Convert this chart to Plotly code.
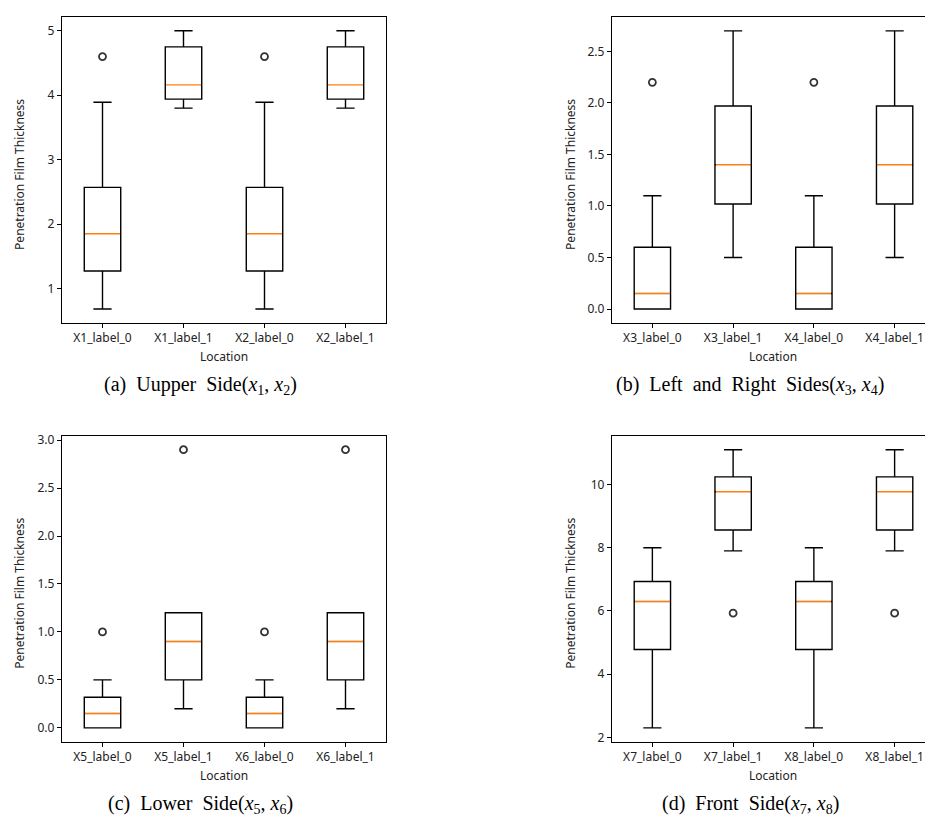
import plotly.graph_objects as go

W, H = 933, 817

# ---------------- data ----------------
labels_a = ["X1_label_0", "X1_label_1", "X2_label_0", "X2_label_1"]
low_a = [0.68, 3.80, 0.68, 3.80]
q1_a = [1.27, 3.94, 1.27, 3.94]
med_a = [1.85, 4.16, 1.85, 4.16]
q3_a = [2.57, 4.75, 2.57, 4.75]
high_a = [3.89, 5.00, 3.89, 5.00]
out_a = [[4.6], [], [4.6], []]

labels_b = ["X3_label_0", "X3_label_1", "X4_label_0", "X4_label_1"]
low_b = [0.0, 0.50, 0.0, 0.50]
q1_b = [0.0, 1.02, 0.0, 1.02]
med_b = [0.15, 1.40, 0.15, 1.40]
q3_b = [0.60, 1.97, 0.60, 1.97]
high_b = [1.10, 2.70, 1.10, 2.70]
out_b = [[2.2], [], [2.2], []]

labels_c = ["X5_label_0", "X5_label_1", "X6_label_0", "X6_label_1"]
low_c = [0.0, 0.20, 0.0, 0.20]
q1_c = [0.0, 0.50, 0.0, 0.50]
med_c = [0.15, 0.90, 0.15, 0.90]
q3_c = [0.32, 1.20, 0.32, 1.20]
high_c = [0.50, 1.20, 0.50, 1.20]
out_c = [[1.0], [2.9], [1.0], [2.9]]

labels_d = ["X7_label_0", "X7_label_1", "X8_label_0", "X8_label_1"]
low_d = [2.30, 7.90, 2.30, 7.90]
q1_d = [4.78, 8.56, 4.78, 8.56]
med_d = [6.30, 9.77, 6.30, 9.77]
q3_d = [6.93, 10.24, 6.93, 10.24]
high_d = [8.00, 11.10, 8.00, 11.10]
out_d = [[], [5.93], [], [5.93]]

captions = [
    "(a)  Uupper  Side(<i>x</i><sub>1</sub>, <i>x</i><sub>2</sub>)",
    "(b)  Left  and  Right  Sides(<i>x</i><sub>3</sub>, <i>x</i><sub>4</sub>)",
    "(c)  Lower  Side(<i>x</i><sub>5</sub>, <i>x</i><sub>6</sub>)",
    "(d)  Front  Side(<i>x</i><sub>7</sub>, <i>x</i><sub>8</sub>)",
]
y_title = "Penetration Film Thickness"
x_title = "Location"

# ---------------- layout geometry (pixels) ----------------
panels = [
    dict(labels=labels_a, low=low_a, q1=q1_a, med=med_a, q3=q3_a, high=high_a, out=out_a,
         px=(54, 378), py=(5, 314), yr=(0.465, 5.215), dtick=1, fmt="d",
         ytx=12, xtx=216, capx=192),
    dict(labels=labels_b, low=low_b, q1=q1_b, med=med_b, q3=q3_b, high=high_b, out=out_b,
         px=(604, 927), py=(5, 314), yr=(-0.135, 2.835), dtick=0.5, fmt=".1f",
         ytx=563, xtx=765, capx=742),
    dict(labels=labels_c, low=low_c, q1=q1_c, med=med_c, q3=q3_c, high=high_c, out=out_c,
         px=(54, 378), py=(428, 737), yr=(-0.145, 3.045), dtick=0.5, fmt=".1f",
         ytx=12, xtx=216, capx=192),
    dict(labels=labels_d, low=low_d, q1=q1_d, med=med_d, q3=q3_d, high=high_d, out=out_d,
         px=(604, 927), py=(428, 737), yr=(1.86, 11.54), dtick=2, fmt="d",
         ytx=563, xtx=765, capx=742),
]

BOXW = 0.45
FONT = "Noto Sans"
fig = go.Figure()
annotations = []
layout_axes = {}

for i, p in enumerate(panels):
    n = i + 1
    xa = "x" if n == 1 else f"x{n}"
    ya = "y" if n == 1 else f"y{n}"
    pos = list(range(1, len(p["labels"]) + 1))

    fig.add_trace(go.Box(
        x=pos, q1=p["q1"], median=p["med"], q3=p["q3"],
        lowerfence=p["low"], upperfence=p["high"],
        orientation="v", width=BOXW, whiskerwidth=0.5,
        line=dict(color="black", width=1.4), fillcolor="rgba(0,0,0,0)",
        boxpoints=False, hoverinfo="skip", showlegend=False,
        xaxis=xa, yaxis=ya,
    ))

    # median lines: white mask over the default black median, then orange
    mx, my = [], []
    for xp, m in zip(pos, p["med"]):
        mx += [xp - BOXW / 2 + 0.013, xp + BOXW / 2 - 0.013, None]
        my += [m, m, None]
    fig.add_trace(go.Scatter(
        x=mx, y=my, mode="lines", line=dict(color="white", width=2.6),
        showlegend=False, hoverinfo="skip", xaxis=xa, yaxis=ya,
    ))
    fig.add_trace(go.Scatter(
        x=mx, y=my, mode="lines", line=dict(color="#ff7f0e", width=1.4),
        showlegend=False, hoverinfo="skip", xaxis=xa, yaxis=ya,
    ))

    # outliers
    ox, oy = [], []
    for xp, outs in zip(pos, p["out"]):
        for v in outs:
            ox.append(xp)
            oy.append(v)
    fig.add_trace(go.Scatter(
        x=ox, y=oy, mode="markers",
        marker=dict(symbol="circle-open", size=7, color="#333333", line=dict(width=1.8)),
        showlegend=False, hoverinfo="skip", xaxis=xa, yaxis=ya,
    ))

    x0, x1 = p["px"]
    y0, y1 = p["py"]
    axkey_x = "xaxis" if n == 1 else f"xaxis{n}"
    axkey_y = "yaxis" if n == 1 else f"yaxis{n}"
    common = dict(showline=True, linecolor="black", linewidth=1.3, mirror=True,
                  ticks="outside", ticklen=4, tickwidth=1, tickcolor="black",
                  showgrid=False, zeroline=False,
                  tickfont=dict(family=FONT, size=12, color="#222222"))
    layout_axes[axkey_x] = dict(domain=[x0 / W, x1 / W], anchor=ya,
                                range=[0.5, len(pos) + 0.5],
                                tickmode="array", tickvals=pos, ticktext=p["labels"],
                                **common)
    layout_axes[axkey_y] = dict(domain=[1 - y1 / H, 1 - y0 / H], anchor=xa,
                                range=list(p["yr"]), dtick=p["dtick"],
                                tickformat=p["fmt"], **common)

    # y title
    annotations.append(dict(text=y_title, x=p["ytx"] / W, y=1 - ((y0 + y1) / 2 + 5) / H,
                            xref="paper", yref="paper", textangle=-90, showarrow=False,
                            xanchor="center", yanchor="middle",
                            font=dict(family=FONT, size=12, color="#222222")))
    # x title
    annotations.append(dict(text=x_title, x=p["xtx"] / W, y=1 - (y1 + 34) / H,
                            xref="paper", yref="paper", showarrow=False,
                            xanchor="center", yanchor="middle",
                            font=dict(family=FONT, size=12, color="#222222")))
    # caption
    annotations.append(dict(text=captions[i], x=p["capx"] / W, y=1 - (y1 + 63) / H,
                            xref="paper", yref="paper", showarrow=False,
                            xanchor="center", yanchor="middle",
                            font=dict(family="Liberation Serif", size=20, color="black")))

fig.update_layout(
    width=W, height=H,
    margin=dict(l=0, r=0, t=0, b=0),
    paper_bgcolor="white", plot_bgcolor="white",
    showlegend=False,
    annotations=annotations,
    **layout_axes,
)

fig.write_html("out.html")
